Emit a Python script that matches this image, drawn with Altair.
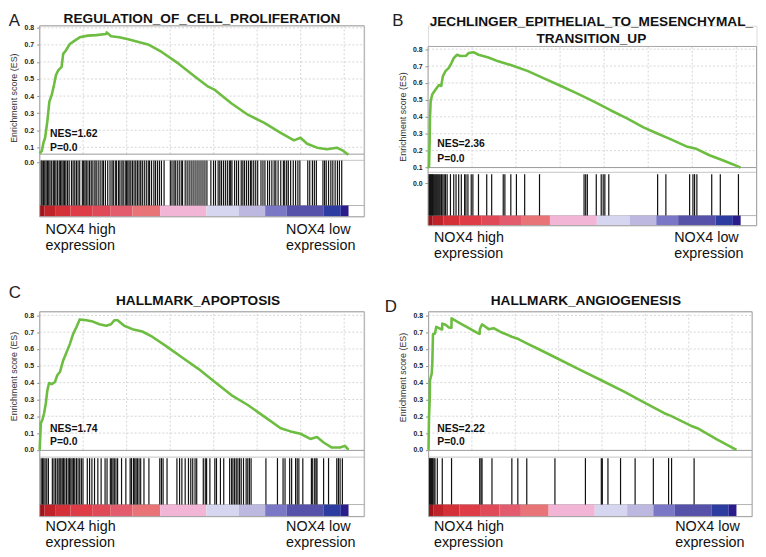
import altair as alt
import pandas as pd

FONT = "Liberation Sans"
N_GENES = 17750          # length of the ranked gene list
X_MAX = 18650            # x extent of each panel frame (rank units)
GRID_X = [2500, 5000, 7500, 10000, 12500, 15000, 17500]
ES_COLOR = "#6dbd41"

# ranked-list colour bar: boundaries (fraction of list) and colours
CBAR_STOPS = [0.0, 0.015, 0.05, 0.10, 0.17, 0.23, 0.30, 0.39, 0.54, 0.645, 0.73, 0.80, 0.92, 0.975, 1.0]
CBAR_COLORS = ["#9e1218", "#c0222a", "#d43038", "#de3c46", "#e04a58", "#e25c6e", "#e97478",
               "#f3b5d5", "#d6d6f0", "#bdb8e0", "#7a78c6", "#5652aa", "#2c3ca0", "#2a1c8a"]

# ---------------- Panel A ----------------
A_RANK = [0, 125, 216, 312, 443, 557, 693, 824, 937, 1068, 1261, 1352, 1506, 1733, 2017, 2301,
          2773, 3250, 3818, 3852, 4102, 4574, 5142, 5898, 6278, 7034, 7983, 8932, 9688, 10068,
          11012, 11960, 12909, 13852, 14614, 14989, 15370, 15938, 16506, 17074, 17454, 17740]
A_ES = [0.065, 0.079, 0.127, 0.156, 0.253, 0.368, 0.407, 0.465, 0.523, 0.551, 0.571, 0.647,
        0.667, 0.705, 0.725, 0.744, 0.754, 0.757, 0.763, 0.773, 0.750, 0.744, 0.731, 0.711,
        0.700, 0.657, 0.590, 0.513, 0.455, 0.436, 0.358, 0.291, 0.243, 0.185, 0.141, 0.156,
        0.121, 0.098, 0.089, 0.098, 0.079, 0.056]
A_HITS = [85, 142, 218, 293, 369, 445, 521, 596, 691, 786, 862, 937, 1032, 1127, 1202, 1278,
          1354, 1430, 1506, 1600, 1695, 1828, 1922, 2017, 2112, 2206, 2301, 2453, 2528, 2604,
          2680, 2775, 2869, 2964, 3059, 3172, 3248, 3362, 3475, 3589, 3665, 3778, 3911, 4043,
          4157, 4233, 4347, 4422, 4536, 4612, 4725, 4801, 4915, 4990, 5066, 5142, 5237, 5331,
          5426, 5521, 5616, 5710, 5805, 5900, 6013, 6127, 6241, 6316, 6430, 6563, 6657, 6771,
          6884, 6998, 7150, 7510, 7604, 7718, 7794, 7907, 8021, 8135, 8210, 8362, 8475, 8589,
          8703, 8816, 8930, 9044, 9157, 9271, 9385, 9498, 9612, 9839, 9991, 10104, 10256,
          10351, 10445, 10559, 10672, 10786, 10900, 10976, 11051, 11203, 11316, 11430, 11582,
          11676, 11771, 11885, 11998, 12112, 12188, 12301, 12415, 12529, 12718, 12832, 12945,
          13097, 13210, 13343, 13476, 13570, 13703, 13854, 14006, 14082, 14195, 14290, 14423,
          14574, 14707, 14839, 14953, 15407, 15521, 15673, 15786, 15900, 16279, 16373, 16468,
          16601, 16733, 16847, 16980, 17112, 17226, 17358]

# ---------------- Panel B ----------------
B_RANK = [0, 56, 94, 112, 150, 244, 431, 618, 750, 843, 993, 1180, 1330, 1461, 1649, 1836,
          2154, 2304, 2585, 2866, 3428, 3990, 4739, 5676, 6613, 7550, 8486, 9423, 10360,
          11296, 12233, 12982, 13731, 14668, 15230, 15979, 16731, 17293, 17750]
B_ES = [0.100, 0.104, 0.260, 0.396, 0.494, 0.533, 0.562, 0.588, 0.582, 0.640, 0.670, 0.689,
        0.718, 0.747, 0.767, 0.760, 0.761, 0.777, 0.782, 0.767, 0.751, 0.728, 0.705, 0.670,
        0.626, 0.582, 0.537, 0.490, 0.439, 0.391, 0.338, 0.303, 0.270, 0.225, 0.211, 0.173,
        0.143, 0.120, 0.100]
B_HITS = [37, 74, 112, 149, 187, 224, 262, 299, 355, 411, 468, 524, 580, 636, 692, 767, 842,
          917, 992, 1086, 1273, 1460, 1591, 1741, 1891, 2078, 2153, 2266, 2453, 2547, 2865,
          3333, 3614, 4270, 4363, 4701, 5019, 5487, 6330, 8859, 8952, 9046, 9552, 9833, 9945,
          10039, 10263, 13035, 13504, 14852, 15040, 15133, 15264, 16107, 16594, 17624]

# ---------------- Panel C ----------------
C_RANK = [0, 68, 159, 256, 352, 443, 540, 693, 881, 1011, 1165, 1352, 1545, 1733, 1920, 2148,
          2301, 2682, 3057, 3438, 3818, 4102, 4290, 4477, 4858, 5330, 5898, 6466, 7227, 8171,
          9120, 10068, 11012, 11960, 12909, 13852, 14420, 14989, 15557, 15938, 16319, 16790,
          17262, 17546, 17750]
C_ES = [0.000, 0.159, 0.179, 0.218, 0.276, 0.355, 0.398, 0.391, 0.404, 0.444, 0.463, 0.532,
        0.581, 0.629, 0.688, 0.738, 0.776, 0.771, 0.763, 0.747, 0.738, 0.747, 0.771, 0.771,
        0.738, 0.718, 0.704, 0.673, 0.620, 0.551, 0.482, 0.404, 0.326, 0.267, 0.198, 0.129,
        0.110, 0.096, 0.065, 0.076, 0.044, 0.014, 0.014, 0.024, 0.000]
C_HITS = [85, 161, 236, 312, 407, 502, 729, 824, 918, 1013, 1108, 1165, 1221, 1297, 1373, 1449,
          1543, 1638, 1714, 1790, 1865, 1941, 2017, 2112, 2206, 2301, 2396, 2490, 2737, 2869,
          3002, 3153, 3343, 3532, 3759, 3873, 4062, 4138, 4214, 4290, 4384, 4479, 4706, 4953,
          5199, 5274, 5388, 5464, 5540, 5615, 5710, 5805, 5994, 6278, 6903, 6998, 7093, 7320,
          7888, 8040, 8172, 8362, 8551, 8684, 8797, 8930, 9025, 9403, 9517, 9593, 9782, 10066,
          10161, 10388, 10578, 10919, 11032, 11108, 11203, 11297, 11392, 11487, 11582, 11714,
          11866, 11960, 12055, 12150, 13002, 13665, 13987, 14101, 14366, 14479, 14707, 14801,
          14896, 15123, 15616, 15691, 15805, 15881, 15938, 16317, 16601, 17074, 17169, 17264,
          17396]

# ---------------- Panel D ----------------
D_RANK = [0, 29, 69, 86, 183, 218, 258, 372, 447, 602, 716, 785, 791, 986, 1175, 1322, 1329,
          1748, 2321, 2894, 2945, 2955, 3030, 3090, 3123, 3467, 3753, 4229, 4802, 5185, 5661,
          6332, 7289, 8624, 9959, 11300, 12446, 13592, 13970, 15116, 15500, 16646, 17750]
D_ES = [0.000, 0.198, 0.296, 0.414, 0.453, 0.512, 0.688, 0.692, 0.732, 0.724, 0.718, 0.716,
        0.751, 0.744, 0.728, 0.726, 0.782, 0.757, 0.724, 0.692, 0.690, 0.715, 0.735, 0.746,
        0.744, 0.718, 0.724, 0.698, 0.673, 0.659, 0.634, 0.600, 0.551, 0.482, 0.414, 0.345,
        0.281, 0.218, 0.202, 0.144, 0.129, 0.061, 0.000]
D_HITS = [29, 67, 105, 144, 182, 220, 258, 316, 373, 507, 793, 1328, 2951, 3028, 3085, 3658,
          4804, 5148, 5664, 7287, 9044, 9961, 10018, 10343, 11069, 11909, 12960, 13838, 14010,
          15309]

PANELS = [
    dict(letter="A", title="REGULATION_OF_CELL_PROLIFERATION", nes="NES=1.62", pval="P=0.0",
         rank=A_RANK, es=A_ES, hits=A_HITS),
    dict(letter="B", title="JECHLINGER_EPITHELIAL_TO_MESENCHYMAL_\nTRANSITION_UP",
         nes="NES=2.36", pval="P=0.0", rank=B_RANK, es=B_ES, hits=B_HITS),
    dict(letter="C", title="HALLMARK_APOPTOSIS", nes="NES=1.74", pval="P=0.0",
         rank=C_RANK, es=C_ES, hits=C_HITS),
    dict(letter="D", title="HALLMARK_ANGIOGENESIS", nes="NES=2.22", pval="P=0.0",
         rank=D_RANK, es=D_ES, hits=D_HITS),
]

# ---------------- layout of each panel (in its own scale units) ----------------
TICKS_01 = [0.1, 0.2, 0.3, 0.4, 0.5, 0.6, 0.7, 0.8]
LAYOUT = [
    dict(width=328, height=193, ytop=0.812, frame_top=0.812, ybot=-0.306, es_bottom=0.06,
         hit_line=0.024, hit_top=0.0225, hit_bottom=-0.2405, axis_values=TICKS_01 + [0.0098],
         axis_title_y=72.7, letter_xy=(-1449, 0.8364), title_xy=(9330, 0.8497),
         nes_xy=(597, 0.179), p_y=0.098, high_xy=(341, -0.3832), low_x=14160),
    dict(width=332, height=202, ytop=0.9386, frame_top=0.816, ybot=-0.243, es_bottom=0.10,
         hit_line=0.072, hit_top=0.061, hit_bottom=-0.184, axis_values=TICKS_01 + [0.0064],
         axis_title_y=91.7, letter_xy=(-1714, 0.9637), title_xy=(9273, 0.9608),
         nes_xy=(523, 0.2404), p_y=0.1526, high_xy=(337, -0.3170), low_x=13977),
    dict(width=328, height=207, ytop=0.822, frame_top=0.822, ybot=-0.396, es_bottom=-0.003,
         hit_line=-0.043, hit_top=-0.049, hit_bottom=-0.325, axis_values=[0.0] + TICKS_01,
         axis_title_y=65, letter_xy=(-1420, 0.934), title_xy=(9103, 0.8865),
         nes_xy=(597, 0.126), p_y=0.047, high_xy=(341, -0.4588), low_x=14160),
    dict(width=327, height=207, ytop=0.822, frame_top=0.822, ybot=-0.396, es_bottom=-0.003,
         hit_line=-0.043, hit_top=-0.049, hit_bottom=-0.325, axis_values=[0.0] + TICKS_01,
         axis_title_y=66, letter_xy=(-2177, 0.851), title_xy=(9070, 0.8865),
         nes_xy=(504, 0.126), p_y=0.047, high_xy=(315, -0.4588), low_x=14222),
]


def make_panel(p, L):
    xsc = alt.Scale(domain=[0, X_MAX], nice=False, zero=False)
    ysc = alt.Scale(domain=[L["ybot"], L["ytop"]], nice=False, zero=False)
    yax = alt.Axis(values=L["axis_values"], format=".1f", grid=False, domain=False,
                   tickSize=3, tickColor="#8c8c8c", tickWidth=1,
                   labelFontSize=7, labelFontWeight="bold", labelColor="#222222",
                   labelFont=FONT, labelPadding=3, labelOverlap=False, labelFlush=False,
                   title="Enrichment score (ES)", titleFont=FONT, titleFontSize=9,
                   titleFontWeight="normal", titleColor="#333333", titleAngle=270,
                   titleAlign="center", titleBaseline="middle",
                   titleX=-26, titleY=L["axis_title_y"])

    def X(f):
        return alt.X(f, type="quantitative", scale=xsc, axis=None)

    def Y(f):
        return alt.Y(f, type="quantitative", scale=ysc, axis=yax)

    def XD(v):
        return alt.XDatum(v, type="quantitative", scale=xsc, axis=None)

    def YD(v):
        return alt.YDatum(v, type="quantitative", scale=ysc, axis=yax)

    grid_y = [t for t in TICKS_01 if t > L["es_bottom"] + 0.001]
    hgrid = alt.Chart(pd.DataFrame({"g": grid_y})).mark_rule(
        color="#d6d6d6", strokeDash=[2, 2], strokeWidth=1).encode(
        y=Y("g"), x=XD(0), x2=alt.X2Datum(X_MAX))
    vgrid = alt.Chart(pd.DataFrame({"g": GRID_X})).mark_rule(
        color="#d6d6d6", strokeDash=[2, 2], strokeWidth=1).encode(
        x=X("g"), y=YD(L["es_bottom"]), y2=alt.Y2Datum(L["frame_top"]))
    seps = alt.Chart(pd.DataFrame({
        "s": [L["es_bottom"], L["hit_line"], L["hit_bottom"]],
        "c": ["#9a9a9a", "#c4c4c4", "#b4b4b4"]})).mark_rule(strokeWidth=1).encode(
        y=Y("s"), x=XD(0), x2=alt.X2Datum(X_MAX), color=alt.Color("c:N", scale=None))
    cbar_df = pd.DataFrame({
        "x0": [s * N_GENES for s in CBAR_STOPS[:-1]],
        "x1": [s * N_GENES for s in CBAR_STOPS[1:]],
        "c": CBAR_COLORS})
    cbar = alt.Chart(cbar_df).mark_rect().encode(
        x=X("x0"), x2=alt.X2("x1"), y=YD(L["hit_bottom"]), y2=alt.Y2Datum(L["ybot"]),
        color=alt.Color("c:N", scale=None))
    hits = alt.Chart(pd.DataFrame({"r": p["hits"]})).mark_rule(
        color="#111111", strokeWidth=1.2).encode(
        x=X("r"), y=YD(L["hit_top"]), y2=alt.Y2Datum(L["hit_bottom"]))
    frame_h = alt.Chart(pd.DataFrame({"f": [L["frame_top"], L["ybot"]]})).mark_rule(
        color="#a6a6a6", strokeWidth=1).encode(
        y=Y("f"), x=XD(0), x2=alt.X2Datum(X_MAX))
    frame_v = alt.Chart(pd.DataFrame({"f": [0, X_MAX]})).mark_rule(
        color="#a6a6a6", strokeWidth=1).encode(
        x=X("f"), y=YD(L["ybot"]), y2=alt.Y2Datum(L["frame_top"]))
    curve = alt.Chart(pd.DataFrame({"r": p["rank"], "es": p["es"]})).mark_line(
        color=ES_COLOR, strokeWidth=2.6, strokeJoin="round").encode(
        x=X("r"), y=Y("es"))
    stats = alt.Chart(pd.DataFrame({
        "x": [L["nes_xy"][0], L["nes_xy"][0]],
        "y": [L["nes_xy"][1], L["p_y"]],
        "t": [p["nes"], p["pval"]]})).mark_text(
        align="left", baseline="middle", font=FONT, fontSize=10.5, fontWeight="bold",
        color="#111111").encode(x=X("x"), y=Y("y"), text="t:N")
    ends = alt.Chart(pd.DataFrame({
        "x": [L["high_xy"][0], L["low_x"]],
        "y": [L["high_xy"][1], L["high_xy"][1]],
        "t": ["NOX4 high\nexpression", "NOX4 low\nexpression"]})).mark_text(
        align="left", baseline="middle", font=FONT, fontSize=14.5, lineHeight=16,
        lineBreak="\n", color="#111111").encode(x=X("x"), y=Y("y"), text="t:N")
    title = alt.Chart(pd.DataFrame({
        "x": [L["title_xy"][0]], "y": [L["title_xy"][1]], "t": [p["title"]]})).mark_text(
        align="center", baseline="middle", font=FONT, fontSize=13.8, fontWeight="bold",
        lineHeight=17, lineBreak="\n", color="#111111").encode(
        x=X("x"), y=Y("y"), text="t:N")
    letter = alt.Chart(pd.DataFrame({
        "x": [L["letter_xy"][0]], "y": [L["letter_xy"][1]], "t": [p["letter"]]})).mark_text(
        align="center", baseline="middle", font=FONT, fontSize=17, color="#222222").encode(
        x=X("x"), y=Y("y"), text="t:N")

    return alt.layer(hgrid, vgrid, seps, cbar, hits, frame_h, frame_v, curve, stats, ends,
                     title, letter).properties(width=L["width"], height=L["height"])


panels = [make_panel(p, L) for p, L in zip(PANELS, LAYOUT)]
row1 = alt.hconcat(panels[0], panels[1], spacing=64.5, bounds="flush")
row2 = alt.hconcat(panels[2], panels[3], spacing=65, bounds="flush")
chart = alt.vconcat(row1, row2, spacing=22, padding=0).configure_view(
    strokeWidth=0).configure(background="white")

chart.save("out.html", embed_options={"renderer": "svg", "actions": False})
